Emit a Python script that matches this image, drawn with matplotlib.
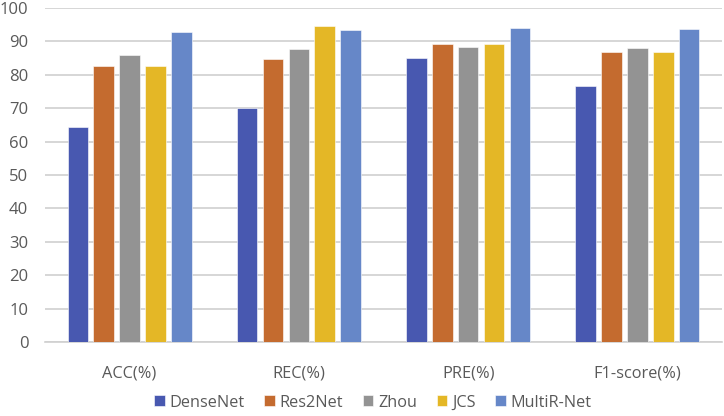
import matplotlib
matplotlib.use("Agg")
import matplotlib.pyplot as plt
import numpy as np

categories = ["ACC(%)", "REC(%)", "PRE(%)", "F1-score(%)"]
models = ["DenseNet", "Res2Net", "Zhou", "JCS", "MultiR-Net"]
densenet = [64.5, 70.1, 85.0, 76.7]
res2net = [82.6, 84.6, 89.2, 86.8]
zhou = [85.9, 87.6, 88.2, 87.9]
jcs = [82.6, 94.5, 89.2, 86.8]
multir = [92.8, 93.4, 94.1, 93.8]
yticks = [0, 10, 20, 30, 40, 50, 60, 70, 80, 90, 100]

series = [densenet, res2net, zhou, jcs, multir]
colors = ["#4858B0", "#C46B2F", "#939393", "#E4B726", "#6687C8"]

plt.rcParams['font.family'] = ['Open Sans', 'DejaVu Sans']

fig = plt.figure(figsize=(7.24, 4.16), dpi=100)
ax = fig.add_axes([45/724, (416-342)/416, (722-45)/724, (342-8)/416])

x = np.arange(len(categories))
step = 0.153
width = 0.122
for i, (vals, c, name) in enumerate(zip(series, colors, models)):
    ax.bar(x + (i - 2) * step, vals, width, color=c, label=name,
           edgecolor='white', linewidth=0.4, zorder=3)

ax.set_xlim(-0.5, len(categories) - 0.5)
ax.set_ylim(0, 100)
ax.set_yticks(yticks)
ax.set_xticks(x)
ax.set_xticklabels(categories)
ax.yaxis.grid(True, color='#D0D0D0', linewidth=1.2, zorder=0)
ax.set_axisbelow(True)
for s in ['top', 'right', 'left']:
    ax.spines[s].set_visible(False)
ax.spines['bottom'].set_color('#D0D0D0')
ax.spines['bottom'].set_linewidth(1.2)
ax.tick_params(axis='both', length=0, colors='#595959')
ax.tick_params(axis='x', pad=17, labelsize=11.8)
ax.tick_params(axis='y', pad=12, labelsize=12)

leg = fig.legend(loc='lower center', bbox_to_anchor=(0.515, -0.022), ncol=5,
                 frameon=False, fontsize=11.7, handlelength=0.65, handleheight=0.65,
                 handletextpad=0.3, columnspacing=1.2)
for t in leg.get_texts():
    t.set_color('#595959')

fig.savefig("out.png", dpi=100)
